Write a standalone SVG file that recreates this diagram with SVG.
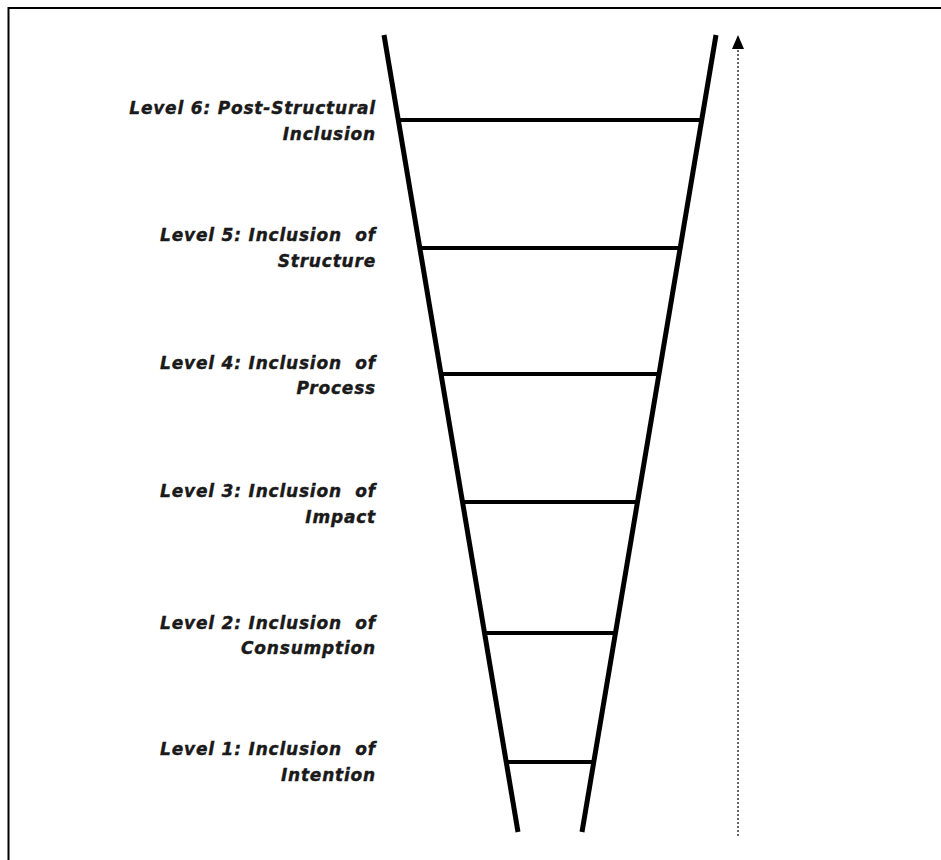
<svg xmlns="http://www.w3.org/2000/svg" width="941" height="860" viewBox="0 0 941 860">
<style>
.lbl{font-family:"DejaVu Sans",Verdana,sans-serif;font-size:17px;font-weight:bold;font-style:italic;letter-spacing:0.8px;fill:#1a1a1a;stroke:#1a1a1a;stroke-width:0.4;text-anchor:end;white-space:pre}
.rail{stroke:#000;stroke-width:5;stroke-linecap:butt;fill:none}
.rung{stroke:#000;stroke-width:4;fill:none}
</style>
<rect x="0" y="0" width="941" height="860" fill="#fff"/>
<path d="M8.5,860 L8.5,8 L941,8" stroke="#000" stroke-width="2" fill="none"/>
<g id="connectors">
<line class="rail" x1="384" y1="35" x2="518" y2="832"/>
<line class="rail" x1="716" y1="35" x2="582" y2="832"/>
<line x1="738" y1="836" x2="738" y2="49" stroke="#333" stroke-width="1.5" stroke-dasharray="2,2"/>
<path d="M732,49 L738,35 L744,49 Z" fill="#000"/>
</g>
<g id="rung6"><line class="rung" x1="398" y1="120" x2="702" y2="120"/></g>
<g id="rung5"><line class="rung" x1="420" y1="248" x2="680" y2="248"/></g>
<g id="rung4"><line class="rung" x1="441" y1="374" x2="659" y2="374"/></g>
<g id="rung3"><line class="rung" x1="463" y1="502" x2="637" y2="502"/></g>
<g id="rung2"><line class="rung" x1="485" y1="633" x2="615" y2="633"/></g>
<g id="rung1"><line class="rung" x1="506" y1="762" x2="594" y2="762"/></g>
<g id="level6"><text class="lbl" x="376" y="114">Level 6: Post-Structural</text><text class="lbl" x="376" y="140">Inclusion</text></g>
<g id="level5"><text class="lbl" x="376" y="241" xml:space="preserve">Level 5: Inclusion  of</text><text class="lbl" x="376" y="267">Structure</text></g>
<g id="level4"><text class="lbl" x="376" y="369" xml:space="preserve">Level 4: Inclusion  of</text><text class="lbl" x="376" y="394">Process</text></g>
<g id="level3"><text class="lbl" x="376" y="497" xml:space="preserve">Level 3: Inclusion  of</text><text class="lbl" x="376" y="523">Impact</text></g>
<g id="level2"><text class="lbl" x="376" y="629" xml:space="preserve">Level 2: Inclusion  of</text><text class="lbl" x="376" y="654">Consumption</text></g>
<g id="level1"><text class="lbl" x="376" y="755" xml:space="preserve">Level 1: Inclusion  of</text><text class="lbl" x="376" y="781">Intention</text></g>
</svg>
